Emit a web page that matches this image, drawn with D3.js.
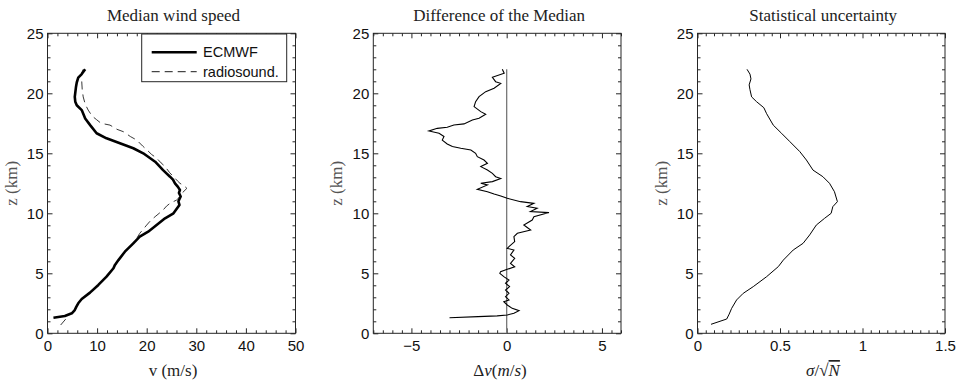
<!DOCTYPE html>
<html>
<head>
<meta charset="utf-8">
<script src="https://cdn.jsdelivr.net/npm/d3@7"></script>
<style>
  body { margin: 0; background: #fff; }
  svg { display: block; }
  .tick text { font-family: "Liberation Sans", Arial, sans-serif; font-size: 15px; fill: #111; }
  .domain { display: none; }
  .tick line { stroke: #262626; }
  .title, .xlabel, .ylabel { font-family: "Liberation Serif", "DejaVu Serif", serif; font-size: 17px; fill: #222; }
  .ylabel { fill: #555; }
</style>
</head>
<body>
<svg width="962" height="382"></svg>
<script>
// ---- data ----
// panel 1: median wind speed (m/s) vs height (km)
const ecmwfV = [7.6, 6.9, 6.2, 5.9, 5.75, 5.5, 5.6, 5.9, 6.9, 7.6, 8.6, 9.9, 11.9, 14.6, 17.3, 19.3, 21.7, 23.3, 24.7, 25.3, 25.7, 26.3, 26.7, 26.5, 26.85, 26.4, 26.6, 25.4, 23.7, 22.0, 20.3, 18.6, 17.3, 15.6, 14.3, 13.6, 13.3, 11.9, 10.25, 8.57, 6.9, 6.2, 5.8, 5.5, 4.9, 3.5, 1.2];
const ecmwfZ = [22.0, 21.6, 21.3, 20.9, 20.55, 19.7, 19.3, 19.0, 18.6, 17.9, 17.35, 16.67, 16.25, 15.83, 15.42, 15.0, 14.3, 13.6, 13.05, 12.8, 12.5, 12.2, 11.94, 11.7, 11.4, 11.0, 10.7, 10.0, 9.58, 9.02, 8.47, 8.05, 7.5, 6.8, 6.1, 5.7, 5.42, 4.72, 4.03, 3.39, 2.86, 2.5, 2.2, 1.94, 1.67, 1.44, 1.3];
const radioV = [7.2, 6.6, 6.9, 7.0, 7.2, 7.6, 8.2, 9.0, 9.9, 10.8, 12.6, 14.0, 15.3, 16.7, 18.0, 19.2, 20.0, 21.0, 22.0, 22.9, 23.7, 24.6, 25.4, 26.2, 26.7, 27.5, 28.1, 27.1, 26.5, 26.0, 24.7, 24.0, 23.3, 21.7, 20.8, 20.0, 18.6, 18.0, 17.0, 15.5, 14.4, 13.2, 12.0, 10.3, 8.6, 7.0, 6.1, 5.4, 4.2, 2.65];
const radioZ = [22.0, 21.4, 21.0, 20.3, 19.7, 19.1, 18.6, 18.1, 17.8, 17.5, 17.35, 17.0, 16.8, 16.4, 16.1, 15.6, 15.3, 14.9, 14.6, 14.2, 13.9, 13.4, 13.05, 12.7, 12.5, 12.3, 12.08, 11.67, 11.3, 11.1, 10.83, 10.6, 10.27, 9.72, 9.4, 9.02, 8.33, 7.92, 7.4, 6.8, 6.1, 5.4, 4.7, 4.0, 3.4, 2.85, 2.45, 1.95, 1.44, 0.69];

// panel 2: difference of the median (m/s)
const diffV = [-0.23, -0.13, -0.75, -0.58, -0.31, -0.66, -1.1, -1.45, -1.63, -1.71, -1.36, -1.1, -1.45, -1.8, -2.24, -2.77, -3.12, -3.64, -4.08, -3.55, -3.29, -3.38, -3.12, -2.85, -2.41, -1.88, -1.63, -1.54, -1.19, -1.01, -1.36, -1.01, -0.75, -0.58, -0.31, -0.75, -1.36, -1.01, -1.54, -1.01, -0.66, -0.31, 0.03, 0.73, 1.43, 1.08, 1.6, 1.25, 2.22, 1.43, 1.34, 0.9, 1.26, 0.56, 0.38, 0.42, 0.12, 0.03, 0.38, 0.2, 0.42, 0.2, 0.42, 0.03, -0.32, -0.36, -0.15, 0.12, -0.06, 0.15, -0.06, 0.12, -0.06, 0.12, -0.15, 0.03, 0.29, 0.65, 0.38, 0.03, -0.5, -1.5, -3.0];
const diffZ = [22.0, 21.67, 21.33, 20.97, 20.83, 20.42, 20.14, 19.72, 19.3, 18.89, 18.47, 18.25, 17.92, 17.78, 17.45, 17.36, 17.17, 17.08, 16.86, 16.67, 16.4, 16.1, 15.78, 15.56, 15.42, 15.28, 15.0, 14.72, 14.44, 14.17, 13.89, 13.6, 13.33, 13.05, 12.9, 12.64, 12.5, 12.36, 12.0, 11.8, 11.6, 11.44, 11.25, 10.97, 10.83, 10.56, 10.42, 10.14, 10.06, 9.72, 9.44, 9.03, 8.6, 8.33, 8.05, 7.64, 7.22, 7.08, 6.94, 6.53, 6.25, 5.83, 5.55, 5.33, 5.14, 5.0, 4.72, 4.44, 4.17, 3.89, 3.61, 3.33, 3.05, 2.78, 2.64, 2.36, 2.08, 1.89, 1.67, 1.53, 1.45, 1.39, 1.3];
const zeroLineZ = [0, 22];

// panel 3: statistical uncertainty
const sigmaV = [0.30, 0.318, 0.324, 0.313, 0.318, 0.328, 0.358, 0.402, 0.419, 0.459, 0.509, 0.56, 0.62, 0.66, 0.70, 0.76, 0.80, 0.83, 0.848, 0.82, 0.81, 0.77, 0.72, 0.68, 0.64, 0.58, 0.52, 0.49, 0.419, 0.338, 0.277, 0.237, 0.207, 0.192, 0.177, 0.082];
const sigmaZ = [22.0, 21.6, 21.2, 20.7, 20.3, 19.7, 19.3, 18.8, 18.3, 17.35, 16.67, 15.97, 15.14, 14.44, 13.6, 13.05, 12.5, 11.8, 10.97, 10.55, 10.0, 9.58, 9.02, 8.2, 7.5, 6.94, 6.1, 5.56, 4.72, 3.89, 3.33, 2.78, 2.08, 1.6, 1.19, 0.75];

// tick labels
const yTicks = [0, 5, 10, 15, 20, 25];
const xTicks1 = [0, 10, 20, 30, 40, 50];
const xTicks2 = [-5, 0, 5];
const xTicks3 = [0, 0.5, 1, 1.5];
const legendLabels = ["ECMWF", "radiosound."];
const titles = ["Median wind speed", "Difference of the Median", "Statistical uncertainty"];

// ---- layout ----
const svg = d3.select("svg");
const yTop = 33.3, yBottom = 333.3;
const y = d3.scaleLinear().domain([0, 25]).range([yBottom, yTop]);

const panels = [
  {left: 47.5, right: 295.5, domain: [0, 50], ticks: xTicks1, minor: 2},
  {left: 373.3, right: 621, domain: [-7, 6], ticks: xTicks2, minor: 0.5},
  {left: 697.5, right: 945, domain: [0, 1.5], ticks: xTicks3, minor: 0.05}
];

const fmt = d => d < 0 ? "\u2212" + Math.abs(d) : String(d);
const zip = (a, b) => a.map((v, i) => [v, b[i]]);

panels.forEach((p, i) => {
  p.x = d3.scaleLinear().domain(p.domain).range([p.left, p.right]);
  const g = svg.append("g");
  const minorX = d3.range(p.domain[0], p.domain[1] + 1e-9, p.minor).filter(v => !p.ticks.some(t => Math.abs(t - v) < 1e-9));
  const minorY = d3.range(0, 26).filter(v => v % 5 !== 0);

  // minor ticks (inward, all four sides)
  g.append("g").attr("transform", `translate(0,${yBottom})`).call(d3.axisBottom(p.x).tickValues(minorX).tickSize(-3).tickFormat(""));
  g.append("g").attr("transform", `translate(0,${yTop})`).call(d3.axisTop(p.x).tickValues(minorX).tickSize(-3).tickFormat(""));
  g.append("g").attr("transform", `translate(${p.left},0)`).call(d3.axisLeft(y).tickValues(minorY).tickSize(-3).tickFormat(""));
  g.append("g").attr("transform", `translate(${p.right},0)`).call(d3.axisRight(y).tickValues(minorY).tickSize(-3).tickFormat(""));

  // major ticks
  g.append("g").attr("transform", `translate(0,${yBottom})`).call(d3.axisBottom(p.x).tickValues(p.ticks).tickSize(-5).tickPadding(7).tickFormat(fmt));
  g.append("g").attr("transform", `translate(0,${yTop})`).call(d3.axisTop(p.x).tickValues(p.ticks).tickSize(-5).tickFormat(""));
  g.append("g").attr("transform", `translate(${p.left},0)`).call(d3.axisLeft(y).tickValues(yTicks).tickSize(-5).tickPadding(4));
  g.append("g").attr("transform", `translate(${p.right},0)`).call(d3.axisRight(y).tickValues(yTicks).tickSize(-5).tickFormat(""));

  // frame
  g.append("rect").attr("x", p.left).attr("y", yTop)
    .attr("width", p.right - p.left).attr("height", yBottom - yTop)
    .attr("fill", "none").attr("stroke", "#262626").attr("stroke-width", 1);

  // title and y label
  svg.append("text").attr("class", "title")
    .attr("x", (p.left + p.right) / 2 + 2).attr("y", 21)
    .attr("text-anchor", "middle").text(titles[i]);
  svg.append("text").attr("class", "ylabel")
    .attr("transform", `translate(${p.left - 31},${(yTop + yBottom) / 2}) rotate(-90)`)
    .attr("text-anchor", "middle").text("z (km)");
  p.g = g;
});

const line = (sx) => d3.line().x(d => sx(d[0])).y(d => y(d[1]));

// panel 1
const p1 = panels[0];
p1.g.append("path").datum(zip(radioV, radioZ))
  .attr("d", line(p1.x)).attr("fill", "none")
  .attr("stroke", "#222").attr("stroke-width", 0.9).attr("stroke-dasharray", "8,5");
p1.g.append("path").datum(zip(ecmwfV, ecmwfZ))
  .attr("d", line(p1.x)).attr("fill", "none")
  .attr("stroke", "#000").attr("stroke-width", 2.6).attr("stroke-linejoin", "round");

// legend
const lg = p1.g.append("g");
lg.append("rect").attr("x", 141.7).attr("y", 34).attr("width", 145).attr("height", 47.7)
  .attr("fill", "#fff").attr("stroke", "#262626");
legendLabels.forEach((lab, k) => {
  const ly = 52.3 + k * 19.4;
  lg.append("line").attr("x1", 151.7).attr("x2", 196.7).attr("y1", ly).attr("y2", ly)
    .attr("stroke", "#000")
    .attr("stroke-width", k === 0 ? 2.6 : 0.9)
    .attr("stroke-dasharray", k === 0 ? null : "8,5");
  lg.append("text").attr("x", 203).attr("y", ly).attr("dy", "0.35em")
    .style("font-family", "'Liberation Sans', Arial, sans-serif").style("font-size", "14.5px")
    .attr("fill", "#111").text(lab);
});
svg.append("text").attr("class", "xlabel").attr("x", 173).attr("y", 376)
  .attr("text-anchor", "middle").text("v (m/s)");

// panel 2
const p2 = panels[1];
p2.g.append("path").datum(zeroLineZ.map(z => [0, z]))
  .attr("d", line(p2.x)).attr("stroke", "#777").attr("stroke-width", 1.3).attr("fill", "none");
p2.g.append("path").datum(zip(diffV, diffZ))
  .attr("d", line(p2.x)).attr("fill", "none").attr("stroke", "#000").attr("stroke-width", 1.1);
const xl2 = svg.append("text").attr("class", "xlabel").attr("x", 500).attr("y", 376).attr("text-anchor", "middle");
xl2.append("tspan").text("\u0394");
xl2.append("tspan").style("font-style", "italic").text("v");
xl2.append("tspan").text("(");
xl2.append("tspan").style("font-style", "italic").text("m");
xl2.append("tspan").text("/");
xl2.append("tspan").style("font-style", "italic").text("s");
xl2.append("tspan").text(")");

// panel 3
const p3 = panels[2];
p3.g.append("path").datum(zip(sigmaV, sigmaZ))
  .attr("d", line(p3.x)).attr("fill", "none").attr("stroke", "#000").attr("stroke-width", 1);
const xl3 = svg.append("text").attr("class", "xlabel").attr("x", 823).attr("y", 376).attr("text-anchor", "middle");
xl3.append("tspan").style("font-style", "italic").text("\u03c3");
xl3.append("tspan").text("/\u221a");
xl3.append("tspan").style("font-style", "italic").style("text-decoration", "overline").text("N");
</script>
</body>
</html>
